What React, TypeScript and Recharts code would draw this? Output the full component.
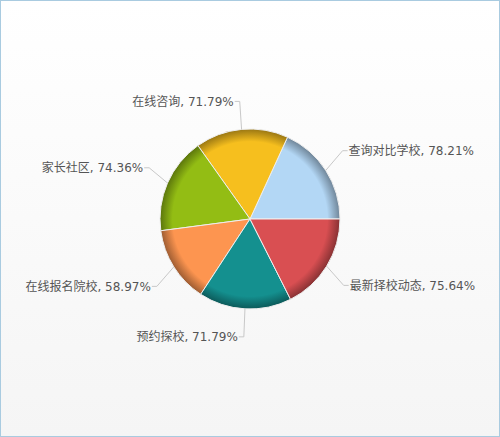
import { PieChart, Pie, Cell } from "recharts";

// 饼图数据（逆时针，从 3 点钟方向开始）
const names = ["查询对比学校", "在线咨询", "家长社区", "在线报名院校", "预约探校", "最新择校动态"];
const values = [78.21, 71.79, 74.36, 58.97, 71.79, 75.64];
const colors = ["#b3d7f5", "#f6bf1e", "#93bd14", "#fd9550", "#14908f", "#d94f52"];

const CX = 250;
const CY = 219;
const R = 90;

const chartData = names.map((name, i) => ({ name, value: values[i] }));

function darken(hex: string, k: number) {
  const n = parseInt(hex.slice(1), 16);
  const r = Math.round(((n >> 16) & 255) * k);
  const g = Math.round(((n >> 8) & 255) * k);
  const b = Math.round((n & 255) * k);
  return `rgb(${r},${g},${b})`;
}

const RAD = Math.PI / 180;

function renderLabel(props: any) {
  const { cx, cy, midAngle, outerRadius, name, value } = props;
  const cos = Math.cos(midAngle * RAD);
  const sin = Math.sin(midAngle * RAD);
  const right = cos >= 0;
  const sx = cx + outerRadius * cos;
  const sy = cy - outerRadius * sin;
  const ry = outerRadius + 40 - 12 * sin * sin;
  const bx = cx + (outerRadius + 20) * cos;
  const by = cy - ry * sin;
  const ex = bx + (right ? 5 : -5);
  return (
    <g>
      <polyline
        points={`${sx},${sy} ${bx},${by} ${ex},${by}`}
        fill="none"
        stroke="#c8c8c8"
        strokeWidth={1}
      />
      <text
        x={ex + (right ? 1 : -1)}
        y={by}
        dy="0.35em"
        textAnchor={right ? "start" : "end"}
        fill="#555555"
        fontSize={12}
        fontFamily='"DejaVu Sans", "Noto Sans CJK SC", sans-serif'
      >
        {`${name}, ${value.toFixed(2)}%`}
      </text>
    </g>
  );
}

export default function App() {
  return (
    <div
      style={{
        position: "absolute",
        left: 0,
        top: 0,
        width: 500,
        height: 437,
        boxSizing: "border-box",
        border: "1px solid #a9cbe0",
        background: "linear-gradient(to bottom, #ffffff 0%, #f5f5f5 100%)",
      }}
    >
      <PieChart width={498} height={435} margin={{ top: 0, right: 0, bottom: 0, left: 0 }}>
        <defs>
          {colors.map((c, i) => (
            <radialGradient
              key={i}
              id={`slice${i}`}
              gradientUnits="userSpaceOnUse"
              cx={CX - 1}
              cy={CY - 1}
              r={R}
            >
              <stop offset="0%" stopColor={c} />
              <stop offset="86%" stopColor={c} />
              <stop offset="100%" stopColor={darken(c, 0.62)} />
            </radialGradient>
          ))}
          <filter id="pieShadow" x="-20%" y="-20%" width="140%" height="140%">
            <feDropShadow dx="1" dy="1" stdDeviation="2" floodColor="#000" floodOpacity="0.15" />
          </filter>
        </defs>
        <Pie
          data={chartData}
          dataKey="value"
          nameKey="name"
          cx={CX - 1}
          cy={CY - 1}
          outerRadius={R}
          startAngle={0}
          endAngle={360}
          stroke="#eeeeee"
          strokeWidth={1}
          label={renderLabel}
          labelLine={false}
          isAnimationActive={false}
        >
          {chartData.map((d, i) => (
            <Cell key={d.name} fill={`url(#slice${i})`} />
          ))}
        </Pie>
      </PieChart>
    </div>
  );
}
